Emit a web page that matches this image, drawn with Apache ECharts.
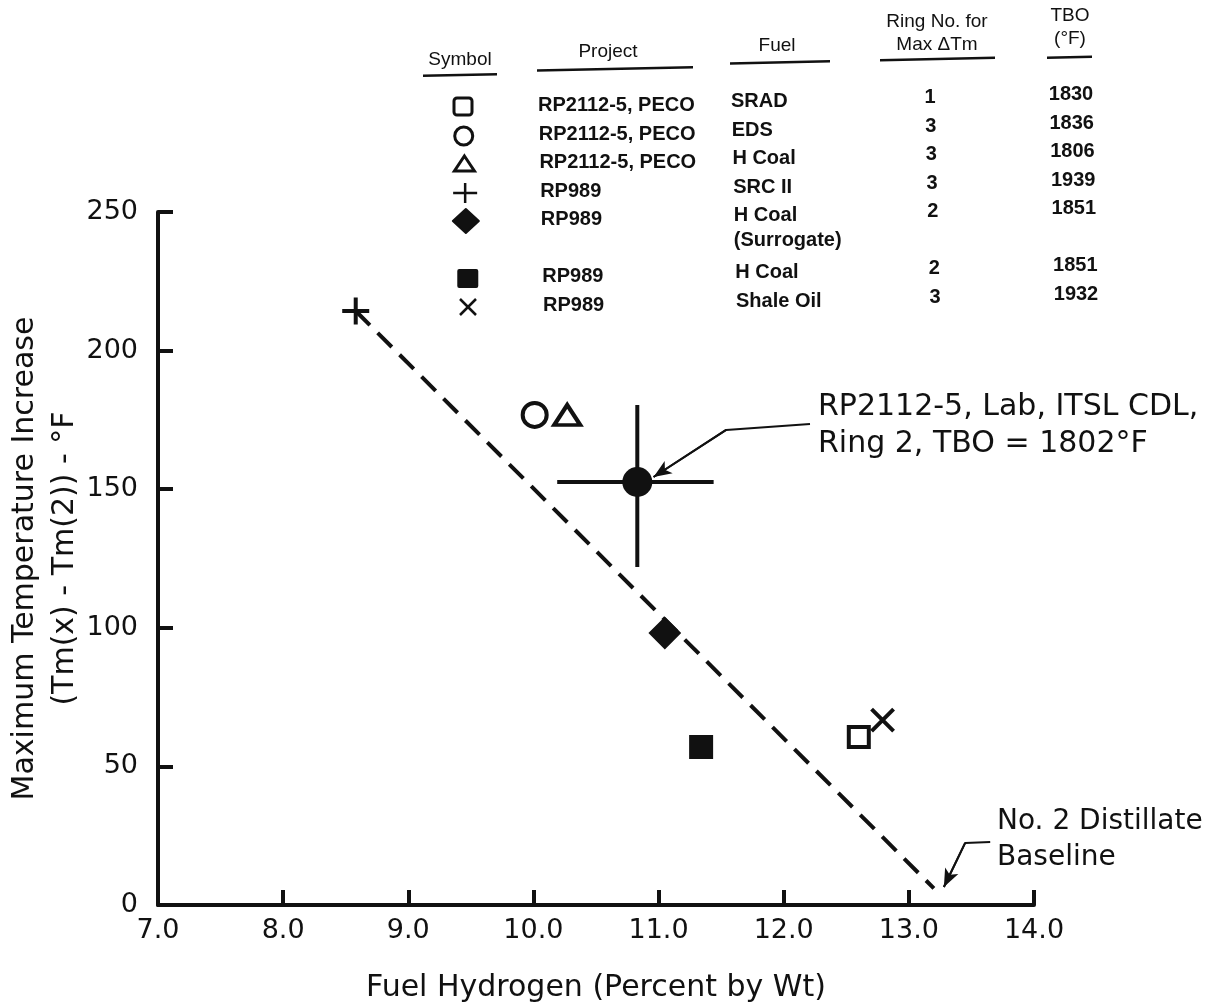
<!DOCTYPE html>
<html>
<head>
<meta charset="utf-8">
<script src="https://cdn.jsdelivr.net/npm/echarts@6/dist/echarts.min.js"></script>
<style>
html, body { margin: 0; padding: 0; background: #fff; }
#chart { width: 1223px; height: 1005px; }
</style>
</head>
<body>
<div id="chart"></div>
<script>
// axis ticks
var xTicks = ['7.0', '8.0', '9.0', '10.0', '11.0', '12.0', '13.0', '14.0'];
var yTicks = [0, 50, 100, 150, 200, 250];

// measured points: [fuel hydrogen %, max temperature increase]
var sradPts = [[12.60, 60.6]];
var edsPts = [[10.01, 176.8]];
var hcoalPecoPts = [[10.27, 176.8]];
var src2Pts = [[8.58, 214.3]];
var hcoalSurrPts = [[11.05, 98.1]];
var hcoalPts = [[11.34, 57.0]];
var shalePts = [[12.79, 66.7]];
var labPts = [[10.83, 152.6]];
var labXRange = [10.19, 11.44];
var labYRange = [121.9, 180.4];
var trendPts = [[8.58, 214.3], [13.2, 6]];

// leader lines for the two callouts
var labLeader = [[12.21, 173.5], [11.54, 171.4], [10.96, 154.4]];
var baseLeader = [[13.65, 22.7], [13.45, 22.4], [13.28, 6.5]];

// key table
var tblSymbols = ['square', 'circle', 'triangle', 'plus', 'diamond', 'fsquare', 'cross'];
var tblProject = ['RP2112-5, PECO', 'RP2112-5, PECO', 'RP2112-5, PECO', 'RP989', 'RP989', 'RP989', 'RP989'];
var tblFuel = ['SRAD', 'EDS', 'H Coal', 'SRC II', 'H Coal\n(Surrogate)', 'H Coal', 'Shale Oil'];
var tblRing = ['1', '3', '3', '3', '2', '2', '3'];
var tblTbo = ['1830', '1836', '1806', '1939', '1851', '1851', '1932'];

var INK = '#111';
var FONT = '"DejaVu Sans", "Liberation Sans", sans-serif';
var KFONT = '"Liberation Sans", Arial, sans-serif';

var chart = echarts.init(document.getElementById('chart'));

// key table layout (scan is slightly tilted)
var rowY = [107, 136, 164, 193, 221, 278, 307];
function ty(x, y) { return y - (x - 463) * 0.021; }
function tx(x, y) { return x + (y - 107) * 0.025; }

var g = [];
function hdr(text, cx, cy, x1, x2, uy) {
	g.push({ type: 'text', x: cx, y: ty(cx, cy), style: { text: text, font: '19px ' + KFONT, fill: INK, align: 'center', verticalAlign: 'middle', lineHeight: 23 } });
	g.push({ type: 'line', shape: { x1: x1, y1: ty(x1, uy), x2: x2, y2: ty(x2, uy) }, style: { stroke: INK, lineWidth: 2.5 } });
}
hdr('Symbol', 460, 60, 423, 497, 75);
hdr('Project', 608, 55, 537, 693, 72);
hdr('Fuel', 777, 52, 730, 830, 69);
hdr('Ring No. for\nMax \u0394Tm', 937, 43, 880, 995, 69);
hdr('TBO\n(\u00b0F)', 1070, 40, 1047, 1092, 70);

tblSymbols.forEach(function (s, i) {
	var cy0 = rowY[i];
	var cx = tx(463, cy0), cy = ty(463, cy0);
	var st = { stroke: INK, lineWidth: 3, fill: 'none' };
	if (s === 'square') g.push({ type: 'rect', shape: { x: cx - 9, y: cy - 9, width: 18, height: 17, r: 3 }, style: st });
	if (s === 'circle') g.push({ type: 'circle', shape: { cx: cx, cy: cy, r: 9 }, style: st });
	if (s === 'triangle') g.push({ type: 'polygon', shape: { points: [[cx, cy - 8], [cx + 10, cy + 7], [cx - 10, cy + 7]] }, style: st });
	if (s === 'plus') {
		g.push({ type: 'line', shape: { x1: cx - 12, y1: cy, x2: cx + 12, y2: cy }, style: { stroke: INK, lineWidth: 2.5 } });
		g.push({ type: 'line', shape: { x1: cx, y1: cy - 10, x2: cx, y2: cy + 10 }, style: { stroke: INK, lineWidth: 2.5 } });
	}
	if (s === 'diamond') g.push({ type: 'polygon', shape: { points: [[cx, cy - 12], [cx + 13, cy], [cx, cy + 12], [cx - 13, cy]] }, style: { fill: INK, stroke: INK, lineWidth: 2, lineJoin: 'round' } });
	if (s === 'fsquare') g.push({ type: 'rect', shape: { x: cx - 10, y: cy - 9, width: 21, height: 19, r: 2 }, style: { fill: INK } });
	if (s === 'cross') {
		g.push({ type: 'line', shape: { x1: cx - 8, y1: cy - 8, x2: cx + 8, y2: cy + 8 }, style: { stroke: INK, lineWidth: 2.5 } });
		g.push({ type: 'line', shape: { x1: cx - 8, y1: cy + 8, x2: cx + 8, y2: cy - 8 }, style: { stroke: INK, lineWidth: 2.5 } });
	}
	var cols = [
		[tblProject[i], 538, 'left'],
		[tblFuel[i], 731, 'left'],
		[tblRing[i], 930, 'center'],
		[tblTbo[i], 1071, 'center']
	];
	cols.forEach(function (c) {
		var x = tx(c[1], cy0);
		g.push({ type: 'text', x: x, y: ty(x, cy0) - 12, style: { text: c[0], font: 'bold 20px ' + KFONT, fill: INK, align: c[2], verticalAlign: 'top', lineHeight: 25 } });
	});
});

// callout texts
g.push({ type: 'text', left: 818, top: 389, style: { text: 'RP2112-5, Lab, ITSL CDL,\nRing 2, TBO = 1802\u00b0F', font: '30px ' + FONT, fill: INK, lineHeight: 37 } });
g.push({ type: 'text', left: 997, top: 804, style: { text: 'No. 2 Distillate\nBaseline', font: '28px ' + FONT, fill: INK, lineHeight: 36 } });

function leader(pts) {
	return {
		type: 'line', data: pts, symbol: 'none', silent: true,
		lineStyle: { color: INK, width: 2 },
		markLine: {
			silent: true, symbol: ['none', 'arrow'], symbolSize: [11, 18],
			lineStyle: { color: INK, width: 2, type: 'solid' }, label: { show: false },
			data: [[{ coord: pts[1] }, { coord: pts[2] }]]
		}
	};
}

function pts(data, symbol, size, style) {
	style.opacity = 1;
	return { type: 'scatter', data: data, symbol: symbol, symbolSize: size, itemStyle: style, z: 5, silent: true };
}
function openSt() { return { color: '#fff', borderColor: INK, borderWidth: 4 }; }
function strokeSt() { return { color: 'none', borderColor: INK, borderWidth: 4 }; }

var option = {
	animation: false,
	backgroundColor: '#fff',
	grid: { left: 158, right: 189, top: 212, bottom: 100, containLabel: false, outerBoundsMode: 'none' },
	xAxis: {
		type: 'value', min: 7, max: 14, interval: 1,
		name: 'Fuel Hydrogen (Percent by Wt)', nameLocation: 'middle', nameGap: 68,
		nameTextStyle: { fontSize: 30, fontFamily: FONT, color: INK },
		axisLine: { lineStyle: { color: INK, width: 4 } },
		axisTick: { inside: true, length: 15, lineStyle: { color: INK, width: 4 } },
		splitLine: { show: false },
		axisLabel: {
			margin: 12, fontSize: 27, fontFamily: FONT, color: INK,
			formatter: function (v) { return xTicks[Math.round(v - 7)]; }
		}
	},
	yAxis: {
		type: 'value', min: yTicks[0], max: yTicks[yTicks.length - 1], interval: 50,
		name: 'Maximum Temperature Increase\n(Tm(x) - Tm(2)) - \u00b0F', nameLocation: 'middle', nameGap: 73,
		nameMoveOverlap: false,
		nameTextStyle: { fontSize: 30, fontFamily: FONT, color: INK, lineHeight: 40 },
		axisLine: { lineStyle: { color: INK, width: 4 } },
		axisTick: { inside: true, length: 15, lineStyle: { color: INK, width: 4 } },
		splitLine: { show: false },
		axisLabel: { margin: 20, fontSize: 27, fontFamily: FONT, color: INK }
	},
	series: [
		{ type: 'line', data: trendPts, symbol: 'none', silent: true, lineStyle: { color: INK, width: 4, type: [20, 11] } },
		{ type: 'line', data: [[labXRange[0], labPts[0][1]], [labXRange[1], labPts[0][1]]], symbol: 'none', silent: true, lineStyle: { color: INK, width: 4 } },
		{ type: 'line', data: [[labPts[0][0], labYRange[1]], [labPts[0][0], labYRange[0]]], symbol: 'none', silent: true, lineStyle: { color: INK, width: 4 } },
		leader(labLeader),
		leader(baseLeader),
		pts(sradPts, 'rect', 20, openSt()),
		pts(edsPts, 'circle', 24, openSt()),
		pts(hcoalPecoPts, 'triangle', [26, 20], openSt()),
		pts(src2Pts, 'path://M15,0 L15,30 M0,15 L30,15', 27, strokeSt()),
		pts(hcoalSurrPts, 'diamond', 30, { color: INK, borderColor: INK, borderWidth: 2 }),
		pts(hcoalPts, 'rect', 24, { color: INK }),
		pts(shalePts, 'path://M0,0 L30,30 M0,30 L30,0', 22, strokeSt()),
		pts(labPts, 'circle', 30, { color: INK })
	],
	graphic: g
};
chart.setOption(option);
</script>
</body>
</html>
